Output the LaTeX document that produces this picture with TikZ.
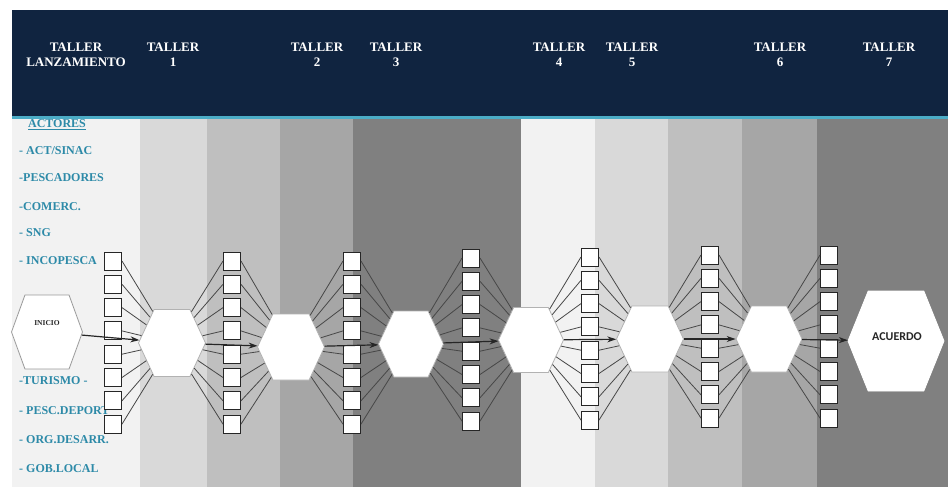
\documentclass[tikz,border=0pt]{standalone}
\usepackage{fontspec}
\setmainfont{Liberation Serif}
\newfontfamily\acuerdofont{Carlito}
\usetikzlibrary{arrows.meta, shapes.symbols}
\definecolor{headnavy}{RGB}{16,36,64}
\definecolor{headline}{RGB}{75,172,198}
\definecolor{actorteal}{RGB}{45,138,168}
\definecolor{stripeA}{RGB}{242,242,242}
\definecolor{stripeB}{RGB}{217,217,217}
\definecolor{stripeC}{RGB}{191,191,191}
\definecolor{stripeD}{RGB}{166,166,166}
\definecolor{stripeE}{RGB}{128,128,128}

\begin{document}
\begin{tikzpicture}[x=1pt, y=-1pt,
    >={Stealth[length=9pt, width=6pt]},
    taller/.style={text=white, font=\fontsize{13}{15}\selectfont\bfseries, align=center},
    actor/.style={anchor=west, text=actorteal, font=\fontsize{12}{14}\selectfont\bfseries, inner sep=0pt},
    hexa/.style={signal, signal to=west and east, draw=gray!60, fill=white, inner sep=0pt, line width=0.8pt},
    cajita/.style={draw=black!85, fill=white, line width=1pt, minimum width=17pt, minimum height=18pt, inner sep=0pt},
    enlace/.style={draw=black!72, line width=0.8pt},
    flujo/.style={->, draw=black!85, line width=1.2pt},
]
    \useasboundingbox (0,0) rectangle (948,487);

    % franjas de fondo
    \foreach \xa/\xb/\col in {12/140/stripeA, 140/207/stripeB, 207/280/stripeC, 280/353/stripeD, 353/521/stripeE,
                              521/595/stripeA, 595/668/stripeB, 668/742/stripeC, 742/817/stripeD, 817/948/stripeE}
        \fill[\col] (\xa,118) rectangle (\xb,487);

    % cabecera
    \fill[headnavy] (12,10) rectangle (948,116);
    \fill[headline] (12,116) rectangle (948,118.5);

    \node[taller] (t0) at (76,54.5) {TALLER\\LANZAMIENTO};
    \node[taller] (t1) at (173,54.5) {TALLER\\1};
    \node[taller] (t2) at (317,54.5) {TALLER\\2};
    \node[taller] (t3) at (396,54.5) {TALLER\\3};
    \node[taller] (t4) at (559,54.5) {TALLER\\4};
    \node[taller] (t5) at (632,54.5) {TALLER\\5};
    \node[taller] (t6) at (780,54.5) {TALLER\\6};
    \node[taller] (t7) at (889,54.5) {TALLER\\7};

    % actores
    \node[actor, anchor=center] (actores) at (57,125) {\underline{ACTORES}};
    \node[actor] (act1) at (19,151) {- ACT/SINAC};
    \node[actor] (act2) at (19,178) {-PESCADORES};
    \node[actor] (act3) at (19,207) {-COMERC.};
    \node[actor] (act4) at (19,233) {- SNG};
    \node[actor] (act5) at (19,261) {- INCOPESCA};
    \node[actor] (act6) at (19,381) {-TURISMO -};
    \node[actor] (act7) at (19,411) {- PESC.DEPORT};
    \node[actor] (act8) at (19,440) {- ORG.DESARR.};
    \node[actor] (act9) at (19,469) {- GOB.LOCAL};

    % hexagonos
    \node[hexa, draw=gray!80, signal pointer angle=140, minimum width=71pt, minimum height=74pt] (inicio) at (47,332) {};
    \node[font=\fontsize{7.5}{9}\selectfont\bfseries, text=black!85] (inicioLbl) at (47,323) {INICIO};
    \node[hexa, signal pointer angle=130, minimum width=67pt, minimum height=67pt] (h1) at (172,343) {};
    \node[hexa, signal pointer angle=130, minimum width=67pt, minimum height=66pt] (h2) at (291,347) {};
    \node[hexa, signal pointer angle=130, minimum width=65pt, minimum height=66pt] (h3) at (411,344) {};
    \node[hexa, signal pointer angle=130, minimum width=65pt, minimum height=65pt] (h4) at (531,340) {};
    \node[hexa, signal pointer angle=130, minimum width=67pt, minimum height=66pt] (h5) at (650,339) {};
    \node[hexa, signal pointer angle=130, minimum width=66pt, minimum height=66pt] (h6) at (769,339) {};
    \node[hexa, draw=white, signal pointer angle=136, minimum width=96pt, minimum height=100pt] (acuerdo) at (896,341) {};
    \node[font=\acuerdofont\fontsize{12}{14}\selectfont\bfseries, text=black!85] (acuerdoLbl) at (897,337) {ACUERDO};

    % columnas de casillas
    \foreach \c/\x/\t in {0/113/252, 1/232/252, 2/352/252, 3/471/249, 4/590/248, 5/710/246, 6/829/246}
        \foreach \i in {1,...,8}
            \node[cajita] (b\c-\i) at (\x, {\t+9+(\i-1)*23.3}) {};

    % enlaces casilla - taller
    \foreach \c in {0,...,5} {
        \pgfmathtruncatemacro{\n}{\c+1}
        \foreach \i in {1,...,8}
            \draw[enlace] (b\c-\i.east) -- (h\n);
    }
    \foreach \c in {1,...,6}
        \foreach \i in {1,...,8}
            \draw[enlace] (h\c) -- (b\c-\i.west);

    % flujo principal
    \draw[flujo] (inicio) -- (h1);
    \foreach \a/\b in {h1/h2, h2/h3, h3/h4, h4/h5, h5/h6, h6/acuerdo}
        \draw[flujo] (\a) -- (\b);
\end{tikzpicture}
\end{document}
